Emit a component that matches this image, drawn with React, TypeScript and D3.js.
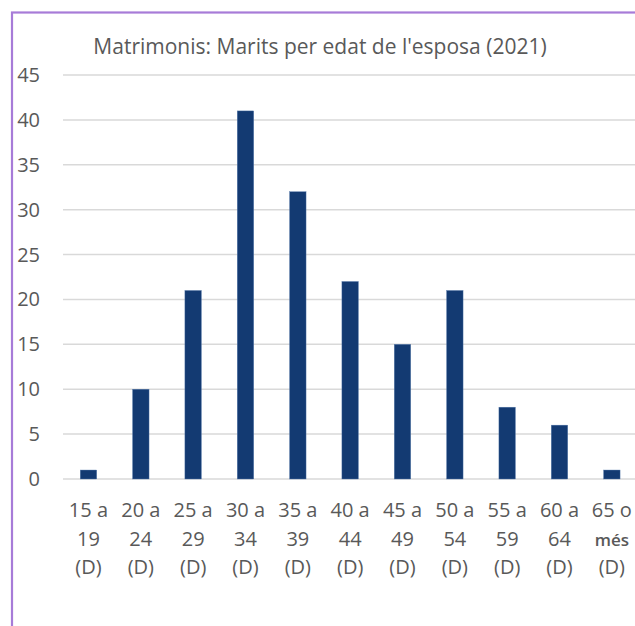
import React from "react";
import * as d3 from "d3";

const categories: string[][] = [
  ["15 a", "19", "(D)"],
  ["20 a", "24", "(D)"],
  ["25 a", "29", "(D)"],
  ["30 a", "34", "(D)"],
  ["35 a", "39", "(D)"],
  ["40 a", "44", "(D)"],
  ["45 a", "49", "(D)"],
  ["50 a", "54", "(D)"],
  ["55 a", "59", "(D)"],
  ["60 a", "64", "(D)"],
  ["65 o", "més", "(D)"],
];
const values: number[] = [1, 10, 21, 41, 32, 22, 15, 21, 8, 6, 1];
const yTicks: number[] = [0, 5, 10, 15, 20, 25, 30, 35, 40, 45];
const title = "Matrimonis: Marits per edat de l'esposa (2021)";

const W = 635;
const H = 626;
const FONT = "'Open Sans', 'DejaVu Sans', sans-serif";

export default function App() {
  const keys = categories.map((c) => c.join(" "));
  const x = d3.scaleBand<string>().domain(keys).range([62.3, 638]).paddingInner(0.685).paddingOuter(0.3425);
  const y = d3.scaleLinear().domain([0, 45]).range([479, 75]);
  return (
    <svg
      width={W}
      height={H}
      style={{ position: "absolute", left: 0, top: 0, background: "#fff" }}
      fontFamily={FONT}
    >
      <rect x={0} y={0} width={W} height={H} fill="#fff" />
      <rect x={12} y={12.5} width={W + 20} height={H + 20} fill="none" stroke="#a77bd8" strokeWidth={2.2} />
      <text x={320} y={54} textAnchor="middle" fontSize={21} fill="#595959">
        {title}
      </text>
      {yTicks.map((t) => (
        <g key={t}>
          <line x1={63} x2={W} y1={y(t)} y2={y(t)} stroke="#d9d9d9" strokeWidth={1.5} />
          <text x={40} y={y(t) + 7} textAnchor="end" fontSize={20} fill="#595959">
            {t}
          </text>
        </g>
      ))}
      {values.map((v, i) => (
        <rect
          key={i}
          x={x(keys[i])!}
          y={y(v)}
          width={x.bandwidth()}
          height={y(0) - y(v)}
          fill="#133a72"
          stroke="#5c7fb0"
          strokeWidth={0.4}
        />
      ))}
      {categories.map((c, i) =>
        c.map((line, j) => (
          <text
            key={i + "-" + j}
            x={x(keys[i])! + x.bandwidth() / 2}
            y={517 + j * 28.5}
            textAnchor="middle"
            fontSize={line === "més" ? 17 : 20}
            fontWeight={line === "més" ? 600 : 400}
            fill="#595959"
          >
            {line}
          </text>
        ))
      )}
    </svg>
  );
}
